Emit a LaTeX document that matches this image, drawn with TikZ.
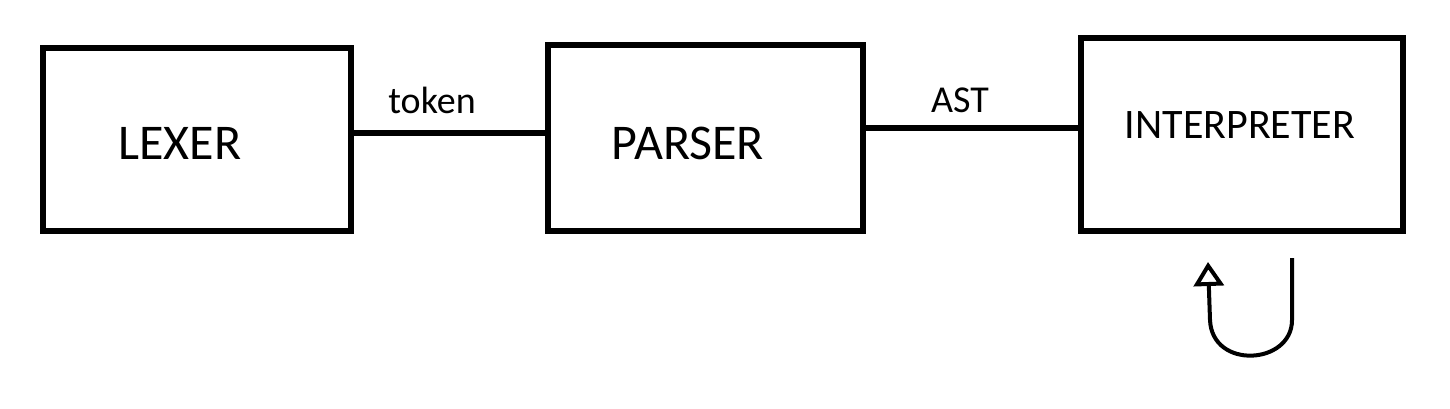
\documentclass[tikz,border=0pt]{standalone}
\usepackage{fontspec}
\setmainfont{Carlito}
\usetikzlibrary{arrows.meta}
\begin{document}
\begin{tikzpicture}[x=1pt,y=-1pt,
 box/.style={draw,line width=6pt,inner sep=0pt,anchor=north west},
 lbl/.style={font=\fontsize{50}{52}\selectfont},
 small/.style={font=\fontsize{38}{40}\selectfont},
 conn/.style={line width=6pt}]
\useasboundingbox (0,0) rectangle (1450,408);
\node[box,minimum width=308pt,minimum height=183pt] (lex) at (40,45) {};
\node[box,minimum width=315pt,minimum height=186pt] (par) at (545,42) {};
\node[box,minimum width=322pt,minimum height=193pt] (int) at (1078,35) {};
\node[lbl] (t1) at (180,143) {LEXER};
\node[lbl] (t2) at (688,143) {PARSER};
\node[font=\fontsize{42}{44}\selectfont] (t3) at (1240,125) {INTERPRETER};
\coordinate (a1) at (348,133); \coordinate (a2) at (545,133);
\draw[conn] (a1) -- (a2);
\coordinate (b1) at (860,128); \coordinate (b2) at (1078,128);
\draw[conn] (b1) -- (b2);
\node[small] (tok) at (432,100) {token};
\node[small] (ast) at (960,100) {AST};
\coordinate (l1) at (1292,258); \coordinate (l2) at (1208,262);
\draw[line width=4pt,-{Triangle[open,length=24pt,width=30pt,line width=4pt]}]
  (l1) -- (1292,320) .. controls (1292,365) and (1212,370) .. (1210,320) -- (l2);
\end{tikzpicture}
\end{document}
